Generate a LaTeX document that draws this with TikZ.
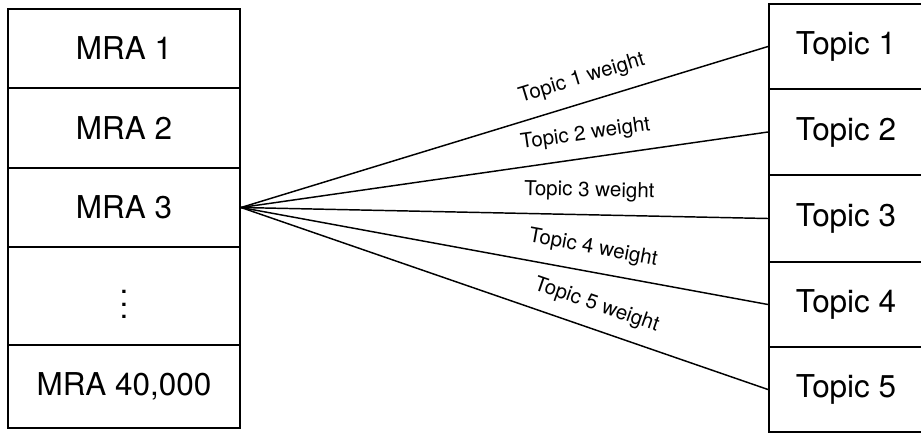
\documentclass[tikz,border=0pt]{standalone}
\usepackage{fontspec}
\setmainfont{TeX Gyre Heros}
\begin{document}
\begin{tikzpicture}[x=0.75pt,y=-0.75pt,
  rowbox/.style={draw, line width=1.5pt, inner sep=0pt, font=\fontsize{23.6}{28}\selectfont},
  leftrow/.style={rowbox, minimum width=174pt},
  rightrow/.style={rowbox, minimum width=115.5pt},
  link/.style={line width=1.1pt},
  wlabel/.style={sloped, above=6.5pt, pos=0.66, font=\fontsize{15.4}{18}\selectfont}
]
\useasboundingbox (0,0) rectangle (921,433);
% left column
\node[leftrow, minimum height=59.25pt] (m1) at (124,48.5) {MRA 1};
\node[leftrow, minimum height=60pt]    (m2) at (124,128) {MRA 2};
\node[leftrow, minimum height=59.25pt] (m3) at (124,207.5) {MRA 3};
\node[leftrow, minimum height=73.5pt]  (m4) at (124,296) {};
\node[inner sep=0pt, font=\fontsize{23.6}{28}\selectfont] (dots) at (124,304.5) {\vbox{\baselineskip=9.2pt\lineskiplimit=0pt\hbox{.}\hbox{.}\hbox{.}}};
\node[leftrow, minimum height=62.25pt] (m5) at (124,386.5) {MRA 40,000};
% right column
\node[rightrow, minimum height=63.75pt] (t1) at (846,46.5) {Topic 1};
\node[rightrow, minimum height=64.5pt]  (t2) at (846,132) {Topic 2};
\node[rightrow, minimum height=65.25pt] (t3) at (846,218.5) {Topic 3};
\node[rightrow, minimum height=63.75pt] (t4) at (846,304.5) {Topic 4};
\node[rightrow, minimum height=63.75pt] (t5) at (846,389.5) {Topic 5};
% connectors
\draw[link] (m3.east) -- node[wlabel] {Topic 1 weight} (t1.west);
\draw[link] (m3.east) -- node[wlabel] {Topic 2 weight} (t2.west);
\draw[link] (m3.east) -- node[wlabel] {Topic 3 weight} (t3.west);
\draw[link] (m3.east) -- node[wlabel] {Topic 4 weight} (t4.west);
\draw[link] (m3.east) -- node[wlabel] {Topic 5 weight} (t5.west);
\end{tikzpicture}
\end{document}
